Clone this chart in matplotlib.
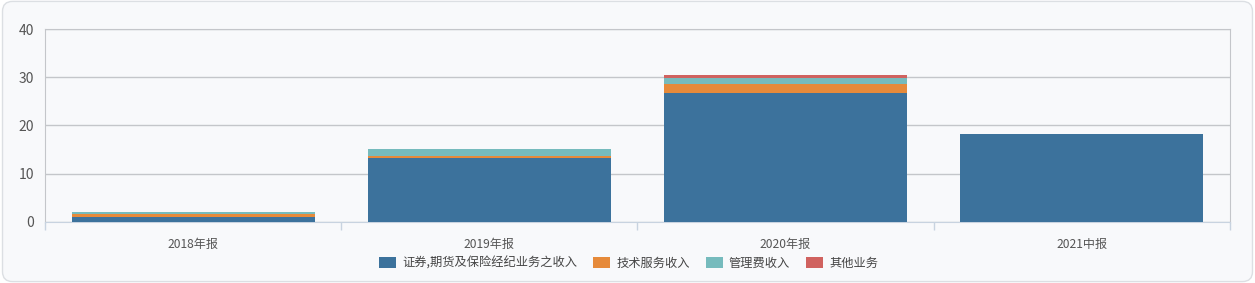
import numpy as np
import matplotlib.pyplot as plt
from matplotlib.patches import FancyBboxPatch

plt.rcParams['font.family'] = ['Noto Sans CJK SC', 'DejaVu Sans']

# categories and stacked series
categories = ['2018年报', '2019年报', '2020年报', '2021中报']
series_names = ['证券,期货及保险经纪业务之收入', '技术服务收入', '管理费收入', '其他业务']
brokerage = [1.0, 13.2, 26.8, 18.2]
tech_service = [0.6, 0.4, 1.9, 0.0]
mgmt_fee = [0.5, 1.6, 1.2, 0.0]
other = [0.0, 0.0, 0.5, 0.0]
yticks = [0, 10, 20, 30, 40]

colors = ['#3c729c', '#e68a3a', '#76bbbd', '#d0625f']

fig = plt.figure(figsize=(12.55, 2.83), dpi=100)
fig.patch.set_facecolor('white')

# rounded card background, kept behind the axes
card = FancyBboxPatch((0.002, 0.005), 0.996, 0.99, boxstyle='round,pad=0,rounding_size=0.008',
                      transform=fig.transFigure, facecolor='#f8f9fb', edgecolor='#dcdfe3',
                      linewidth=1.0, mutation_aspect=4.4, zorder=-10)
fig.add_artist(card)

ax = fig.add_axes([0.0359, 0.2166, 0.9441, 0.68])
ax.set_facecolor('#f8f9fb')

x = np.arange(len(categories))
bottom = np.zeros(len(categories))
for name, vals, c in zip(series_names, [brokerage, tech_service, mgmt_fee, other], colors):
    ax.bar(x, vals, width=0.82, bottom=bottom, color=c, label=name, zorder=3,
           edgecolor='none')
    bottom += np.array(vals)

ax.set_xlim(-0.5, len(categories) - 0.5)
ax.set_ylim(0, 40)
ax.set_yticks(yticks)
ax.yaxis.grid(True, color='#c4c6ca', linewidth=1.0, zorder=0)

# x ticks at band boundaries, labels centred in bands
ax.set_xticks(np.arange(len(categories) + 1) - 0.5)
ax.set_xticklabels([])
ax.set_xticks(x, minor=True)
ax.set_xticklabels(categories, minor=True)
ax.tick_params(axis='x', which='major', length=6, color='#c8d3e0', width=1)
ax.tick_params(axis='x', which='minor', length=0, pad=12, labelsize=8.7, labelcolor='#555555')
ax.tick_params(axis='y', length=0, pad=8, labelsize=10, labelcolor='#555555')

for side in ['top', 'right', 'left']:
    ax.spines[side].set_color('#c4c6ca')
ax.spines['bottom'].set_color('#c8d3e0')

leg = ax.legend(loc='upper center', bbox_to_anchor=(0.4925, -0.125), ncol=4, frameon=False,
                fontsize=8.8, handlelength=1.4, handleheight=1.0, columnspacing=1.3,
                handletextpad=0.5)
for t in leg.get_texts():
    t.set_color('#444444')

fig.savefig('out.png', dpi=100, facecolor=fig.get_facecolor())
